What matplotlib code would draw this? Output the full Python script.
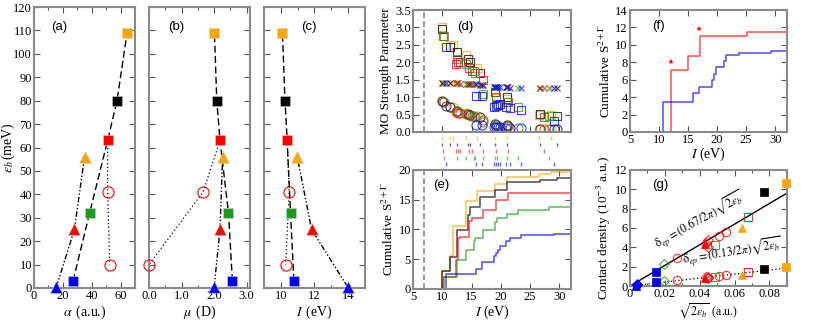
import numpy as np
import matplotlib
matplotlib.use("Agg")
import matplotlib.pyplot as plt
from matplotlib.ticker import MultipleLocator

plt.rcParams["font.family"] = ["Liberation Serif", "DejaVu Serif"]
plt.rcParams["mathtext.fontset"] = "stix"
plt.rcParams["font.size"] = 9

ORANGE = "#FFA500"
BLACK = "#000000"
RED = "#FF0000"
GREEN = "#1E9A1E"
BLUE = "#0000FF"
FRAME = "#8a8a8a"

# ---- panels (a)-(c): binding energy vs alpha, mu, I ----
eb_sq = [3, 32, 63, 80, 109]
alpha_sq = [27, 38.5, 51, 57.5, 64.5]
mu_sq = [2.56, 2.44, 2.18, 2.08, 2.01]
ion_sq = [10.78, 10.58, 10.38, 10.25, 10.1]
col_sq = [BLUE, GREEN, RED, BLACK, ORANGE]

eb_tri = [0.5, 25, 56]
alpha_tri = [15.5, 28, 35]
mu_tri = [2.0, 2.18, 2.26]
ion_tri = [13.97, 11.83, 10.98]
col_tri = [BLUE, RED, ORANGE]

eb_circ = [63, 41, 10]
alpha_circ = [51, 51, 52.5]
mu_circ = [2.18, 1.66, 0.0]
ion_circ = [10.38, 10.5, 10.29]

# ---- panel (d)/(e): MO energies and strengths per molecule ----
mol_colors = [ORANGE, BLACK, RED, GREEN, BLUE]

E_orange = [9.9, 11.3, 11.9, 14.0, 15.9, 19.0, 21.0, 26.5, 28.5]
sq_orange = [3.0, 2.5, 2.5, 2.2, 1.85, 1.2, 0.95, 0.5, 0.5]
x_orange = [1.4, 1.4, 1.4, 1.38, 1.35, 1.3, 1.28, 1.25, 1.25]
ci_orange = [0.9, 0.72, 0.72, 0.55, 0.45, 0.22, 0.2, 0.1, 0.1]
cum_orange = [3.0, 5.5, 10.5, 14.7, 16.4, 17.7, 18.8, 19.3, 19.7]

E_black = [10.0, 11.3, 12.6, 14.4, 14.7, 16.5, 19.0, 21.1, 26.7, 29.6]
sq_black = [2.97, 2.45, 2.3, 2.1, 2.0, 1.7, 1.15, 1.0, 0.53, 0.45]
x_black = [1.4, 1.4, 1.4, 1.38, 1.38, 1.35, 1.3, 1.28, 1.25, 1.25]
ci_black = [0.88, 0.72, 0.6, 0.52, 0.5, 0.42, 0.22, 0.2, 0.1, 0.1]
cum_black = [3.0, 5.4, 9.9, 12.5, 13.8, 15.4, 16.6, 18.0, 18.3, 18.6]

E_red = [10.1, 12.4, 12.7, 13.1, 14.6, 15.1, 16.9, 19.2, 21.2, 27.3]
sq_red = [2.75, 1.95, 2.0, 2.0, 1.85, 1.75, 1.5, 1.0, 0.85, 0.42]
x_red = [1.4, 1.4, 1.4, 1.38, 1.38, 1.37, 1.35, 1.3, 1.28, 1.25]
ci_red = [0.85, 0.58, 0.55, 0.55, 0.5, 0.45, 0.35, 0.2, 0.18, 0.1]
cum_red = [2.0, 4.8, 8.5, 8.7, 11.5, 12.0, 13.3, 15.0, 16.1, 16.2]

E_green = [10.3, 12.5, 14.0, 15.4, 15.6, 16.9, 19.0, 19.3, 21.0, 23.0, 28.2]
sq_green = [2.75, 2.1, 1.95, 1.75, 1.7, 1.1, 1.15, 0.8, 0.85, 0.72, 0.45]
x_green = [1.4, 1.4, 1.38, 1.37, 1.37, 1.35, 1.3, 1.3, 1.28, 1.25, 1.25]
ci_green = [0.85, 0.6, 0.52, 0.45, 0.42, 0.3, 0.22, 0.2, 0.18, 0.12, 0.1]
cum_green = [2.0, 4.8, 6.5, 8.0, 8.5, 9.9, 11.2, 11.9, 12.6, 13.3, 13.7]

E_blue = [10.6, 15.8, 16.8, 18.9, 19.1, 19.6, 19.8, 20.9, 21.6, 23.5, 29.1]
sq_blue = [2.45, 1.03, 1.03, 0.72, 0.75, 0.78, 0.8, 0.72, 0.7, 0.62, 0.33]
x_blue = [1.4, 1.38, 1.35, 1.3, 1.3, 1.3, 1.28, 1.28, 1.27, 1.25, 1.25]
ci_blue = [0.75, 0.2, 0.2, 0.15, 0.15, 0.15, 0.15, 0.12, 0.12, 0.12, 0.08]
cum_blue = [2.5, 3.4, 4.6, 5.5, 6.0, 6.6, 7.2, 8.0, 8.5, 9.0, 9.2]

mol_E = [E_orange, E_black, E_red, E_green, E_blue]
mol_sq = [sq_orange, sq_black, sq_red, sq_green, sq_blue]
mol_x = [x_orange, x_black, x_red, x_green, x_blue]
mol_ci = [ci_orange, ci_black, ci_red, ci_green, ci_blue]
mol_cum = [cum_orange, cum_black, cum_red, cum_green, cum_blue]

ps_threshold = 6.8

# ---- panel (f) ----
Ef_red = [12.0, 15.0, 17.0, 25.2]
cumf_red = [7.1, 8.7, 11.0, 11.5]
Ef_blue = [10.7, 15.9, 16.9, 19.2, 19.5, 19.8, 21.1, 21.6, 23.8, 29.3]
cumf_blue = [3.4, 4.5, 5.2, 6.0, 6.7, 7.5, 8.2, 8.8, 9.1, 9.3]
star_E = [12.0, 16.9]
star_val = [8.0, 11.8]

# ---- panel (g) ----
g_x = [0.0895, 0.0767, 0.068, 0.0642, 0.0549, 0.0511, 0.0486, 0.045, 0.0445,
       0.0435, 0.0429, 0.0271, 0.0195, 0.0148, 0.004, 0.0035]
g_upper = [10.7, 9.7, 7.15, 6.0, 5.6, 5.2, 4.2, 4.8, 4.0, 4.5, 4.35, 2.95,
           2.25, 1.45, 0.2, 0.15]
g_lower = [1.95, 1.8, 1.45, 1.15, 1.15, 1.05, 0.95, 0.95, 0.85, 0.9, 0.85,
           0.6, 0.5, 0.4, 0.1, 0.05]
g_marker = ["s", "s", "s", "^", "o", "o", "s", "D", "D", "D", "^", "o", "D",
            "s", "D", "^"]
g_color = [ORANGE, BLACK, RED, ORANGE, RED, RED, GREEN, RED, RED, RED, RED,
           RED, GREEN, BLUE, BLUE, BLUE]
g_filled = [True, True, False, True, False, False, False, False, False, False,
            True, False, False, True, True, True]
coef_upper = 0.67
coef_lower = 0.13


def style_axes(ax):
    for s in ax.spines.values():
        s.set_color(FRAME)
        s.set_linewidth(1.5)
    ax.tick_params(which="both", direction="in", top=True, right=True,
                   color="#555555", width=0.8, labelsize=9, pad=1.5)
    ax.tick_params(which="major", length=4)
    ax.tick_params(which="minor", length=2.5)


def panel_label(ax, text, x, y):
    ax.text(x, y, text, transform=ax.transAxes, fontsize=9.5,
            family="Liberation Sans", ha="left", va="center")


fig = plt.figure(figsize=(8.3, 3.2), dpi=100)

W = 0.1217
ax_a = fig.add_axes([0.041, 0.1, W, 0.878])
ax_b = fig.add_axes([0.1795, 0.1, W, 0.878])
ax_c = fig.add_axes([0.318, 0.1, W, 0.878])

xs_list = [(alpha_sq, alpha_tri, alpha_circ), (mu_sq, mu_tri, mu_circ),
           (ion_sq, ion_tri, ion_circ)]
for ax, (xs, xt, xc) in zip([ax_a, ax_b, ax_c], xs_list):
    style_axes(ax)
    ax.plot(xs, eb_sq, color="black", ls=(0, (5, 2.5)), lw=1, zorder=1)
    ax.plot(xt, eb_tri, color="black", ls=(0, (4, 1.5, 1, 1.5, 1, 1.5)),
            lw=1, zorder=1)
    ax.plot(xc, eb_circ, color="black", ls=(0, (1, 2)), lw=0.9, zorder=1)
    for x, y, c in zip(xs, eb_sq, col_sq):
        ax.plot(x, y, "s", color=c, ms=7.5, mec="#cccccc", mew=0.4, zorder=3,
                clip_on=False)
    for x, y, c in zip(xt, eb_tri, col_tri):
        ax.plot(x, y, "^", color=c, ms=8.5, mec="#cccccc", mew=0.4, zorder=3,
                clip_on=False)
    ax.plot(xc[1:], eb_circ[1:], "o", mfc="none", mec=RED, ms=8, mew=0.8,
            zorder=3, clip_on=False)
    ax.set_ylim(0, 120)
    ax.yaxis.set_major_locator(MultipleLocator(10))
    ax.xaxis.set_label_coords(0.5, -0.055)

ax_a.set_xlim(0, 70)
ax_a.xaxis.set_major_locator(MultipleLocator(20))
ax_a.xaxis.set_minor_locator(MultipleLocator(10))
ax_a.set_xlabel(r"$\alpha\,$ (a.u.)", fontsize=10, va="top")
ax_a.set_ylabel(r"$\varepsilon_b\,$(meV)", fontsize=10, va="center")
ax_a.yaxis.set_label_coords(-0.25, 0.5)

ax_b.set_xlim(0, 3.1)
ax_b.set_xticks([0, 1, 2, 3])
ax_b.set_xticklabels(["0.0", "1.0", "2.0", "3.0"])
ax_b.xaxis.set_minor_locator(MultipleLocator(0.5))
ax_b.set_yticklabels([])
ax_b.set_xlabel(r"$\mu\,$ (D)", fontsize=10, va="top")

ax_c.set_xlim(9, 15)
ax_c.set_xticks([10, 12, 14])
ax_c.xaxis.set_minor_locator(MultipleLocator(1))
ax_c.set_yticklabels([])
ax_c.set_xlabel(r"$I\,$ (eV)", fontsize=10, va="top")

panel_label(ax_a, "(a)", 0.17, 0.93)
panel_label(ax_b, "(b)", 0.19, 0.93)
panel_label(ax_c, "(c)", 0.37, 0.93)

# ---- (d) ----
ax_d = fig.add_axes([0.4976, 0.5875, 0.1904, 0.381])
style_axes(ax_d)
ax_d.axvline(ps_threshold, color="#999999", ls=(0, (3, 1.5)), lw=1.4)
for c, E, sq, xx, ci in zip(mol_colors, mol_E, mol_sq, mol_x, mol_ci):
    ax_d.plot(E, sq, "s", mfc="none", mec=c, ms=6, mew=0.8, alpha=0.75)
    ax_d.plot(E, xx, "x", color=c, ms=4.5, mew=0.8, alpha=0.75)
    ax_d.plot(E, ci, "o", mfc="none", mec=c, ms=6.5, mew=0.8, alpha=0.75)
ax_d.set_xlim(5, 32)
ax_d.set_ylim(0, 3.5)
ax_d.xaxis.set_major_locator(MultipleLocator(5))
ax_d.yaxis.set_major_locator(MultipleLocator(0.5))
ax_d.set_xticklabels([])
ax_d.set_ylabel("MO Strength Parameter", fontsize=9.5, labelpad=2)
panel_label(ax_d, "(d)", 0.28, 0.86)

# ---- MO energy strip ----
ax_s = fig.add_axes([0.4976, 0.475, 0.1904, 0.106])
ax_s.set_xlim(5, 32)
ax_s.set_ylim(-0.6, 4.6)
ax_s.axis("off")
for row, (c, E) in enumerate(zip(mol_colors, mol_E)):
    level = 4 - row
    ax_s.vlines(E, level - 0.3, level + 0.3, color=c, lw=1, alpha=0.6)

# ---- (e) ----
ax_e = fig.add_axes([0.4976, 0.0969, 0.1904, 0.372])
style_axes(ax_e)
ax_e.axvline(ps_threshold, color="#999999", ls=(0, (3, 1.5)), lw=1.4)
for c, E, cum in zip(mol_colors, mol_E, mol_cum):
    xs = np.r_[E[0], E, 32]
    ys = np.r_[0, cum, cum[-1]]
    ax_e.step(xs, ys, where="post", color=c, lw=1.1, alpha=0.7)
ax_e.set_xlim(5, 32)
ax_e.set_ylim(0, 20)
ax_e.xaxis.set_major_locator(MultipleLocator(5))
ax_e.yaxis.set_major_locator(MultipleLocator(5))
ax_e.set_xlabel(r"$I$ (eV)", fontsize=10, va="top")
ax_e.xaxis.set_label_coords(0.5, -0.12)
ax_e.set_ylabel(r"Cumulative S$^{2+\Gamma}$", fontsize=9.5, labelpad=2)
panel_label(ax_e, "(e)", 0.13, 0.87)

# ---- (f) ----
ax_f = fig.add_axes([0.759, 0.5875, 0.189, 0.381])
style_axes(ax_f)
for c, E, cum in [(RED, Ef_red, cumf_red), (BLUE, Ef_blue, cumf_blue)]:
    xs = np.r_[E[0], E, 32]
    ys = np.r_[0, cum, cum[-1]]
    ax_f.step(xs, ys, where="post", color=c, lw=1.1, alpha=0.7)
ax_f.plot(star_E, star_val, "*", color=RED, ms=4, mew=0)
ax_f.set_xlim(5, 32)
ax_f.set_ylim(0, 14)
ax_f.xaxis.set_major_locator(MultipleLocator(5))
ax_f.yaxis.set_major_locator(MultipleLocator(2))
ax_f.set_xlabel(r"$I$ (eV)", fontsize=10, va="top")
ax_f.xaxis.set_label_coords(0.5, -0.115)
ax_f.set_ylabel(r"Cumulative S$^{2+\Gamma}$", fontsize=9.5, labelpad=2)
panel_label(ax_f, "(f)", 0.14, 0.87)

# ---- (g) ----
ax_g = fig.add_axes([0.759, 0.106, 0.189, 0.363])
style_axes(ax_g)
xl = np.array([0, 0.09])
ax_g.plot(xl, 1000 * coef_upper / (2 * np.pi) * xl, color="black", lw=1)
ax_g.plot(xl, 1000 * coef_lower / (2 * np.pi) * xl, color="black",
          ls=(0, (1, 2)), lw=0.9)
for x, yu, yl, m, c, f in zip(g_x, g_upper, g_lower, g_marker, g_color,
                              g_filled):
    ms = 6 if m != "D" else 5
    for y in (yu, yl):
        if f:
            ax_g.plot(x, y, m, color=c, ms=ms, mew=0.5, mec=c, zorder=3,
                      clip_on=False)
        else:
            ax_g.plot(x, y, m, mfc="none", mec=c, ms=ms, mew=0.8, zorder=3,
                      alpha=0.8, clip_on=False)
ax_g.set_xlim(0, 0.09)
ax_g.set_ylim(0, 12)
ax_g.set_xticks([0, 0.02, 0.04, 0.06, 0.08])
ax_g.set_xticklabels(["0", "0.02", "0.04", "0.06", "0.08"])
ax_g.xaxis.set_minor_locator(MultipleLocator(0.01))
ax_g.yaxis.set_major_locator(MultipleLocator(2))
ax_g.set_xlabel(r"$\sqrt{2\varepsilon_b}\,$ (a.u.)", fontsize=8.5, va="top")
ax_g.xaxis.set_label_coords(0.5, -0.13)
ax_g.set_ylabel(r"Contact density (10$^{-3}$ a.u.)", fontsize=9.5,
                labelpad=2)
ax_g.text(0.0175, 3.4, r"$\mathrm{\delta}_{ep}=(0.67/2\pi)\sqrt{2\varepsilon_b}$",
          fontsize=8.5, rotation=29, ha="left", va="bottom",
          rotation_mode="anchor")
ax_g.text(0.031, 1.8, r"$\mathrm{\delta}_{ep}=(0.13/2\pi)\sqrt{2\varepsilon_b}$",
          fontsize=8.5, rotation=9, ha="left", va="bottom",
          rotation_mode="anchor")
panel_label(ax_g, "(g)", 0.14, 0.87)

fig.savefig("out.png", dpi=100)
